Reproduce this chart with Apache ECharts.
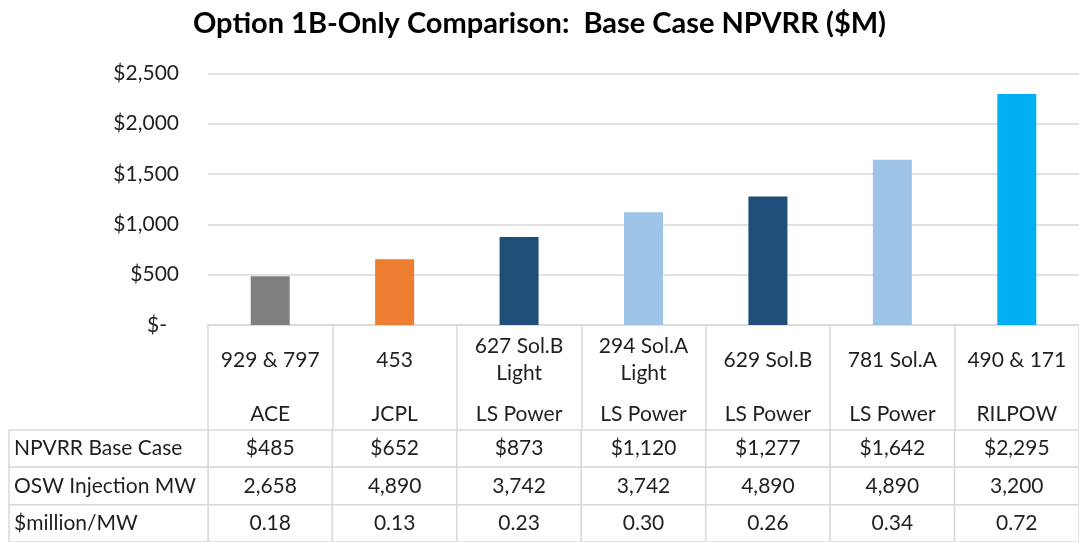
<!DOCTYPE html>
<html>
<head>
<meta charset="utf-8">
<script src="https://cdn.jsdelivr.net/npm/echarts@6/dist/echarts.min.js"></script>
<style>
html,body{margin:0;padding:0;background:#fff;}
#chart{width:1079px;height:542px;}
</style>
</head>
<body>
<div id="chart"></div>
<script>
// ---- data ----
const titleText = 'Option 1B-Only Comparison:  Base Case NPVRR ($M)';
const projects = ['929 & 797', '453', '627 Sol.B\nLight', '294 Sol.A\nLight', '629 Sol.B', '781 Sol.A', '490 & 171'];
const companies = ['ACE', 'JCPL', 'LS Power', 'LS Power', 'LS Power', 'LS Power', 'RILPOW'];
const npvrr = [485, 652, 873, 1120, 1277, 1642, 2295];
const injectionMW = [2658, 4890, 3742, 3742, 4890, 4890, 3200];
const millionPerMW = [0.18, 0.13, 0.23, 0.30, 0.26, 0.34, 0.72];
const rowNames = ['NPVRR Base Case', 'OSW Injection MW', '$million/MW'];
const barColors = ['#7f7f7f', '#ed7d31', '#1f4e79', '#9dc3e6', '#1f4e79', '#9dc3e6', '#00b0f0'];
const yTicks = [0, 500, 1000, 1500, 2000, 2500];

// ---- helpers ----
const FONT = 'Lato, "Open Sans", sans-serif';
const FS = 21;
const fmtInt = v => v.toLocaleString('en-US');
const fmtMoney = v => v === 0 ? '$-' : '$' + v.toLocaleString('en-US');
const tableRows = [
  npvrr.map(v => '$' + fmtInt(v)),
  injectionMW.map(fmtInt),
  millionPerMW.map(v => v.toFixed(2))
];

const GRID_LEFT = 208;
const GRID_WIDTH = 880.6;
const LINE = '#d9d9d9';
const TEXT = '#1f1f1f';

const cellData = [];
tableRows.forEach((row, r) => row.forEach((t, c) => cellData.push([c, r])));

const chart = echarts.init(document.getElementById('chart'), null, {renderer: 'canvas'});
chart.setOption({
  animation: false,
  backgroundColor: '#fff',
  title: {
    text: titleText,
    left: 'center',
    top: 4,
    textStyle: {fontFamily: FONT, fontWeight: 'bold', fontSize: 29, color: '#000'}
  },
  grid: [
    {left: GRID_LEFT, width: GRID_WIDTH, top: 73.3, height: 251.7},
    {left: GRID_LEFT, width: GRID_WIDTH, top: 430, height: 114}
  ],
  xAxis: [
    {
      type: 'category', gridIndex: 0, data: projects,
      axisLine: {show: true, lineStyle: {color: LINE, width: 1.5}},
      axisTick: {show: true, alignWithLabel: false, interval: 0, length: 105, lineStyle: {color: LINE, width: 1.5}},
      axisLabel: {
        interval: 0, margin: 8, color: TEXT,
        formatter: (v, i) => {
          const parts = v.split('\n');
          const head = parts.length > 1 ? parts.map(p => '{p|' + p + '}').join('\n') : '{s|' + v + '}';
          return head + '\n{c|' + companies[i] + '}';
        },
        rich: {
          p: {fontFamily: FONT, fontSize: FS, lineHeight: 27, color: TEXT, align: 'center'},
          s: {fontFamily: FONT, fontSize: FS, lineHeight: 54, color: TEXT, align: 'center'},
          c: {fontFamily: FONT, fontSize: FS, lineHeight: 54, color: TEXT, align: 'center'}
        }
      }
    },
    {
      type: 'category', gridIndex: 1, data: projects, show: false
    }
  ],
  yAxis: [
    {
      type: 'value', gridIndex: 0, min: 0, max: 2500, interval: 500,
      axisLine: {show: false}, axisTick: {show: false},
      splitLine: {show: true, lineStyle: {color: LINE, width: 1.5}},
      axisLabel: {
        margin: 29, fontFamily: FONT, fontSize: FS, color: TEXT,
        formatter: v => v === 0 ? '{z|$-}' : fmtMoney(v),
        rich: {z: {fontFamily: FONT, fontSize: FS, color: TEXT, padding: [0, 12, 0, 0]}}
      }
    },
    {
      type: 'category', gridIndex: 1, data: rowNames, inverse: true, show: false
    }
  ],
  series: [
    {
      type: 'bar', xAxisIndex: 0, yAxisIndex: 0, barWidth: 39,
      data: npvrr.map((v, i) => ({value: v, itemStyle: {color: barColors[i]}}))
    },
    {
      type: 'custom', xAxisIndex: 1, yAxisIndex: 1, clip: false,
      data: cellData,
      renderItem: (params, api) => {
        const c = api.value(0), r = api.value(1);
        const p = api.coord([c, r]);
        const s = api.size([1, 1]);
        return {
          type: 'group',
          children: [
            {type: 'rect', shape: {x: p[0] - s[0] / 2, y: p[1] - s[1] / 2, width: s[0], height: s[1]},
             style: {fill: '#fff', stroke: LINE, lineWidth: 1.5}},
            {type: 'text', style: {text: tableRows[r][c], x: p[0], y: p[1], align: 'center', verticalAlign: 'middle',
             font: FS + 'px ' + FONT, fill: TEXT}}
          ]
        };
      }
    },
    {
      type: 'custom', xAxisIndex: 1, yAxisIndex: 1, clip: false,
      data: rowNames.map((n, r) => [0, r]),
      renderItem: (params, api) => {
        const r = api.value(1);
        const p = api.coord([0, r]);
        const s = api.size([1, 1]);
        const right = p[0] - s[0] / 2;
        const left = 9;
        return {
          type: 'group',
          children: [
            {type: 'rect', shape: {x: left, y: p[1] - s[1] / 2, width: right - left, height: s[1]},
             style: {fill: '#fff', stroke: LINE, lineWidth: 1.5}},
            {type: 'text', style: {text: rowNames[r], x: left + 5, y: p[1], align: 'left', verticalAlign: 'middle',
             font: FS + 'px ' + FONT, fill: TEXT}}
          ]
        };
      }
    }
  ]
});
</script>
</body>
</html>
